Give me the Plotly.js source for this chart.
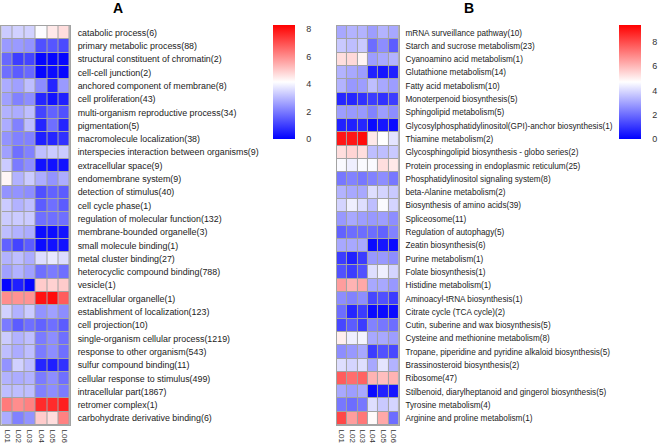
<!DOCTYPE html>
<html>
<head>
<meta charset="utf-8">
<script src="https://cdn.plot.ly/plotly-3.0.1.min.js"></script>
<style>html,body{margin:0;padding:0;background:#fff}#chart{width:658px;height:444px}</style>
</head>
<body>
<div id="chart"></div>
<script>
const samples = ['L01','L02','L03','L04','L05','L06'];

const termsA = [
  'catabolic process(6)','primary metabolic process(88)','structural constituent of chromatin(2)','cell-cell junction(2)',
  'anchored component of membrane(8)','cell proliferation(43)','multi-organism reproductive process(34)','pigmentation(5)',
  'macromolecule localization(38)','interspecies interaction between organisms(9)','extracellular space(9)','endomembrane system(9)',
  'detection of stimulus(40)','cell cycle phase(1)','regulation of molecular function(132)','membrane-bounded organelle(3)',
  'small molecule binding(1)','metal cluster binding(27)','heterocyclic compound binding(788)','vesicle(1)',
  'extracellular organelle(1)','establishment of localization(123)','cell projection(10)','single-organism cellular process(1219)',
  'response to other organism(543)','sulfur compound binding(11)','cellular response to stimulus(499)','intracellular part(1867)',
  'retromer complex(1)','carbohydrate derivative binding(6)'
];
const valuesA = [
  [3.3,3.4,3.4,4.1,4.5,4.7],
  [2.5,2.5,2.4,1.3,1.4,1.2],
  [1.7,1.0,1.1,0.1,0.1,0.1],
  [1.8,1.5,1.7,0.1,0.2,0.1],
  [2.8,2.6,3.1,2.3,0.6,2.5],
  [2.6,2.1,2.3,0.6,0.3,0.5],
  [2.9,2.8,3.1,1.1,1.6,1.3],
  [2.8,2.1,3.1,0.6,1.8,0.6],
  [2.4,2.1,2.1,0.5,0.6,0.8],
  [2.6,1.8,2.1,3.1,3.3,3.3],
  [3.3,2.0,2.3,0.3,0.3,0.3],
  [4.3,2.9,3.3,2.8,2.4,2.8],
  [2.4,2.4,2.3,1.3,1.6,1.5],
  [3.3,2.9,3.1,1.5,1.8,1.5],
  [3.3,3.3,3.3,1.8,1.8,1.8],
  [3.1,2.9,2.8,0.2,0.2,0.3],
  [1.6,1.1,1.5,0.2,0.3,0.3],
  [2.9,3.1,2.8,3.6,3.8,3.6],
  [2.6,2.9,2.6,1.8,2.0,1.8],
  [0.1,0.5,0.1,5.0,4.9,5.0],
  [6.0,5.9,5.9,8.0,8.1,6.8],
  [3.4,2.9,3.3,2.4,2.6,2.3],
  [2.0,1.5,1.8,1.6,1.8,1.5],
  [3.3,2.9,3.1,2.0,2.3,1.8],
  [3.1,2.8,3.1,2.0,2.3,1.8],
  [2.4,3.4,3.1,0.6,0.5,0.8],
  [2.9,2.8,2.9,2.0,2.3,1.8],
  [3.1,3.1,3.1,2.1,2.3,2.0],
  [6.3,6.0,6.2,7.6,7.6,7.8],
  [2.8,2.1,2.4,5.0,4.7,6.2]
];

const termsB = [
  'mRNA surveillance pathway(10)','Starch and sucrose metabolism(23)','Cyanoamino acid metabolism(1)','Glutathione metabolism(14)',
  'Fatty acid metabolism(10)','Monoterpenoid biosynthesis(5)','Sphingolipid metabolism(5)','Glycosylphosphatidylinositol(GPI)-anchor biosynthesis(1)',
  'Thiamine metabolism(2)','Glycosphingolipid biosynthesis - globo series(2)','Protein processing in endoplasmic reticulum(25)','Phosphatidylinositol signaling system(8)',
  'beta-Alanine metabolism(2)','Biosynthesis of amino acids(39)','Spliceosome(11)','Regulation of autophagy(5)',
  'Zeatin biosynthesis(6)','Purine metabolism(1)','Folate biosynthesis(1)','Histidine metabolism(1)',
  'Aminoacyl-tRNA biosynthesis(1)','Citrate cycle (TCA cycle)(2)','Cutin, suberine and wax biosynthesis(5)','Cysteine and methionine metabolism(8)',
  'Tropane, piperidine and pyridine alkaloid biosynthesis(5)','Brassinosteroid biosynthesis(2)','Ribosome(47)','Stilbenoid, diarylheptanoid and gingerol biosynthesis(5)',
  'Tyrosine metabolism(4)','Arginine and proline metabolism(1)'
];
const valuesB = [
  [3.1,3.3,3.3,2.9,3.3,3.1],
  [3.7,3.5,3.7,2.0,2.6,1.7],
  [5.3,5.4,4.9,2.9,3.1,3.3],
  [3.3,3.1,2.9,0.6,0.4,0.6],
  [3.3,2.8,2.9,3.5,3.1,2.9],
  [0.7,0.7,0.9,1.1,0.9,1.1],
  [2.9,2.8,2.8,2.4,2.9,2.6],
  [0.6,0.6,0.7,0.2,0.4,0.2],
  [9.0,9.0,9.2,5.1,4.7,4.2],
  [5.3,5.5,5.3,3.5,3.5,3.7],
  [4.6,4.4,4.6,4.6,5.3,5.1],
  [2.2,2.4,2.2,2.4,2.6,2.2],
  [3.3,3.1,3.1,4.1,3.9,3.7],
  [3.9,4.4,4.1,3.5,4.6,3.9],
  [2.8,3.1,2.9,2.8,2.9,2.6],
  [1.8,2.0,2.0,2.0,1.8,2.4],
  [3.1,3.1,3.1,0.2,0.4,0.2],
  [1.1,0.6,1.1,2.8,2.8,2.6],
  [1.5,1.1,1.5,4.1,4.4,3.9],
  [6.5,6.1,6.3,3.1,3.1,2.8],
  [2.6,2.4,2.6,1.3,1.5,1.1],
  [2.0,0.7,1.1,0.2,0.2,0.2],
  [1.3,1.7,1.1,2.4,2.2,2.0],
  [5.0,4.4,4.5,3.1,3.1,2.9],
  [2.6,2.8,3.1,1.1,1.5,1.3],
  [4.1,3.9,4.1,3.1,4.2,3.3],
  [7.7,7.4,7.6,6.1,5.9,6.1],
  [3.1,2.9,3.1,0.2,0.6,0.4],
  [2.2,2.0,2.2,4.1,3.7,3.9],
  [8.1,6.5,7.2,4.8,6.3,2.0]
];

const W = 658, H = 444;
const px = v => v / W;
const py = v => 1 - v / H;
const cscale = [[0,'rgb(0,0,255)'],[0.5,'rgb(255,255,255)'],[1,'rgb(255,0,0)']];
const gridColor = '#a3a3a3';
const fam = 'Liberation Sans, Arial, sans-serif';

function cb(xLeft) {
  return {
    x: px(xLeft), xanchor: 'left', xref: 'paper',
    y: py(25), yanchor: 'top', yref: 'paper',
    len: 114, lenmode: 'pixels', thickness: 22, thicknessmode: 'pixels',
    xpad: 0, ypad: 0, outlinewidth: 0, ticks: 'outside', ticklen: 10, tickcolor: 'rgba(0,0,0,0)',
    tickvals: [0,2,4,6,8], tickfont: {family: fam, size: 9, color: '#333'}
  };
}

const traces = [
  {type: 'heatmap', x: samples, y: termsA, z: valuesA, xaxis: 'x', yaxis: 'y',
   colorscale: cscale, zmin: 0, zmax: 8.3, xgap: 1, ygap: 1, colorbar: cb(276), hoverinfo: 'none'},
  {type: 'heatmap', x: samples, y: termsB, z: valuesB, xaxis: 'x2', yaxis: 'y2',
   colorscale: cscale, zmin: 0, zmax: 9.4, xgap: 1, ygap: 1, colorbar: cb(625), hoverinfo: 'none'}
];

const colFont = {family: fam, size: 8, color: '#333'};

function xax(l, r, anchor) {
  return {domain: [px(l), px(r)], anchor: anchor, tickangle: 90, tickfont: colFont, ticks: '',
          showgrid: false, zeroline: false, showline: true, mirror: true, linecolor: gridColor, linewidth: 1,
          fixedrange: true, ticklabelstandoff: 2};
}
function yax(anchor, fsize, standoff) {
  return {domain: [py(425), py(26)], anchor: anchor, side: 'right', autorange: 'reversed', ticks: '',
          tickfont: {family: fam, size: fsize, color: '#222'}, showgrid: false, zeroline: false, showline: true, mirror: true,
          linecolor: gridColor, linewidth: 1, fixedrange: true, ticklabelstandoff: standoff};
}

const layout = {
  width: W, height: H,
  margin: {l: 0, r: 0, t: 0, b: 0},
  paper_bgcolor: '#fff', plot_bgcolor: gridColor,
  showlegend: false,
  xaxis: xax(1.5, 70.5, 'y'),
  yaxis: yax('x', 8.9, 5),
  xaxis2: xax(340, 402.5, 'y2'),
  yaxis2: yax('x2', 8.2, 4),
  annotations: [
    {text: '<b>A</b>', x: px(119), y: py(8), xref: 'paper', yref: 'paper', xanchor: 'center', yanchor: 'middle',
     showarrow: false, font: {family: fam, size: 14, color: '#000'}},
    {text: '<b>B</b>', x: px(473), y: py(8), xref: 'paper', yref: 'paper', xanchor: 'center', yanchor: 'middle',
     showarrow: false, font: {family: fam, size: 14, color: '#000'}}
  ]
};

Plotly.newPlot('chart', traces, layout, {staticPlot: true, displayModeBar: false});
</script>
</body>
</html>
